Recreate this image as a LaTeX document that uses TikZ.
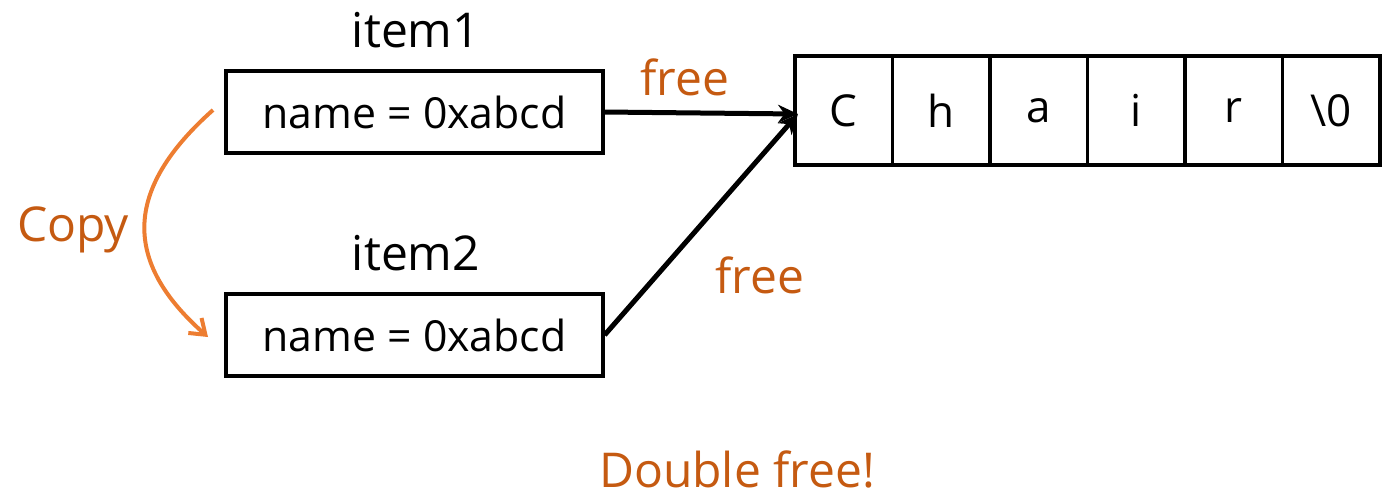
\documentclass[tikz,border=0pt]{standalone}
\usepackage{fontspec}
\setmainfont{Open Sans}
\usetikzlibrary{arrows.meta}
\definecolor{dkorange}{HTML}{C55A11}
\definecolor{ltorange}{HTML}{ED7D31}
\tikzset{
  membox/.style={draw=black, line width=1.6pt, minimum width=188.5pt, minimum height=41pt, inner sep=0pt, font=\fontsize{21.4}{25}\selectfont},
  cell/.style={draw=black, line width=1.6pt, minimum width=48.75pt, minimum height=54.5pt, inner sep=0pt, font=\fontsize{22}{26}\selectfont},
  title/.style={font=\fontsize{24}{28}\selectfont, inner sep=0pt},
  olabel/.style={text=dkorange, font=\fontsize{24}{28}\selectfont, inner sep=0pt},
  ptr/.style={line width=2.5pt, -{Stealth[length=10pt,width=9pt]}},
  cpy/.style={draw=ltorange, line width=2pt, -{Straight Barb[length=7pt,width=10pt]}}
}
\begin{document}
\begin{tikzpicture}[x=0.5pt,y=-0.5pt]
\useasboundingbox (0,0) rectangle (1396,500);
\node[membox] (item1) at (414.5,112) {name = 0xabcd};
\node[membox] (item2) at (414.5,335) {name = 0xabcd};
\node[title] (t1) at (416,30) {item1};
\node[title] (t2) at (416,253) {item2};
\foreach \ch [count=\i] in {C,h,a,i,r,\textbackslash 0} {
  \node[cell] (c\i) at ({795+48.75+97.5*(\i-1)},110.5) {\ch};
}
\coordinate (tgt) at (798,114);
\draw[ptr] (item1.east) -- (tgt);
\draw[ptr] (item2.east) -- (tgt);
\node[olabel] (f1) at (685,77) {free};
\node[olabel] (f2) at (760,275) {free};
\coordinate (cs) at (213,110);
\coordinate (ce) at (208,337);
\draw[cpy] (cs) .. controls (123,190) and (123,262) .. (ce);
\node[olabel] (copy) at (73,230) {Copy};
\node[olabel] (dbl) at (737,469) {Double free!};
\end{tikzpicture}
\end{document}
